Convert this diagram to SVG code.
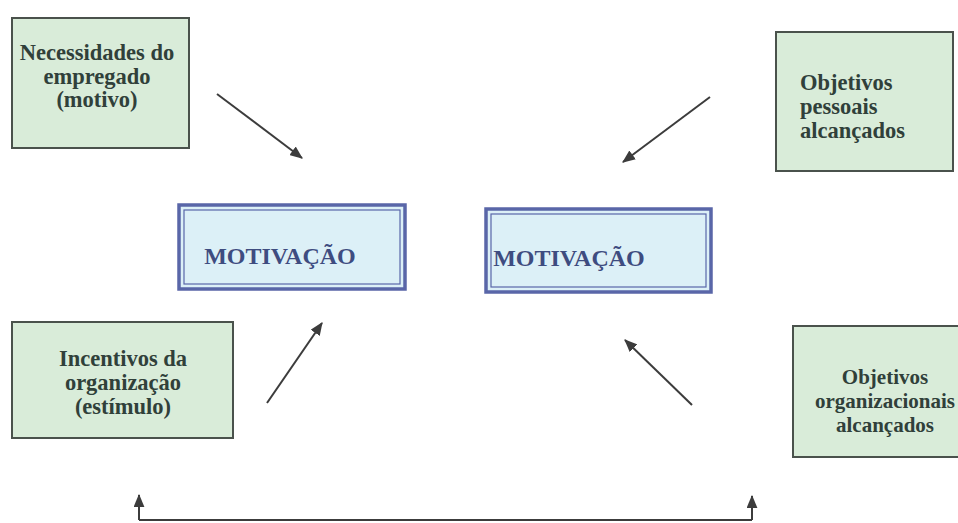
<svg xmlns="http://www.w3.org/2000/svg" width="958" height="523" viewBox="0 0 958 523">
<defs>
<style>
.g{fill:#d9ecd9;stroke:#4a524c;stroke-width:2}
.gt{font-family:"Liberation Serif","Times New Roman",serif;font-weight:bold;font-size:22.5px;fill:#30403a}
.go{font-size:21px}
.m{fill:#dcf0f7;stroke:#5966a8;stroke-width:3.5}
.mi{fill:none;stroke:#5966a8;stroke-width:1.2}
.mt{font-family:"Liberation Serif","Times New Roman",serif;font-weight:bold;font-size:24px;fill:#3e4c80}
.c{fill:none;stroke:#3c3c3c;stroke-width:2}
</style>
<marker id="ah" viewBox="0 0 12 10" refX="11" refY="5" markerWidth="13" markerHeight="11" markerUnits="userSpaceOnUse" orient="auto">
<path d="M0,0 L12,5 L0,10 z" fill="#3c3c3c"/>
</marker>
</defs>
<rect width="958" height="523" fill="#ffffff"/>

<g id="connectors">
<line class="c" x1="217" y1="94" x2="302" y2="158" marker-end="url(#ah)"/>
<line class="c" x1="710" y1="97" x2="623" y2="162" marker-end="url(#ah)"/>
<line class="c" x1="267" y1="403" x2="322" y2="323" marker-end="url(#ah)"/>
<line class="c" x1="692" y1="405" x2="625" y2="340" marker-end="url(#ah)"/>
<polyline class="c" points="139,520 752,520"/>
<line class="c" x1="139" y1="520" x2="139" y2="495" marker-end="url(#ah)"/>
<line class="c" x1="752" y1="520" x2="752" y2="496" marker-end="url(#ah)"/>
</g>

<g id="necessidades">
<rect class="g" x="12" y="18" width="177" height="130"/>
<text class="gt" text-anchor="middle"><tspan x="97" y="60">Necessidades do</tspan><tspan x="97" y="84">empregado</tspan><tspan x="97" y="107">(motivo)</tspan></text>
</g>

<g id="objetivos-pessoais">
<rect class="g" x="776" y="32" width="177" height="139"/>
<text class="gt"><tspan x="800" y="90">Objetivos</tspan><tspan x="800" y="114">pessoais</tspan><tspan x="800" y="138">alcançados</tspan></text>
</g>

<g id="motivacao1">
<rect class="m" x="179" y="205" width="226" height="84"/>
<rect class="mi" x="184" y="210" width="216" height="74"/>
<text class="mt" x="280" y="264" text-anchor="middle">MOTIVAÇÃO</text>
</g>

<g id="motivacao2">
<rect class="m" x="486" y="209" width="225" height="83"/>
<rect class="mi" x="491" y="214" width="215" height="73"/>
<text class="mt" x="569" y="266" text-anchor="middle">MOTIVAÇÃO</text>
</g>

<g id="incentivos">
<rect class="g" x="12" y="322" width="221" height="116"/>
<text class="gt" text-anchor="middle"><tspan x="123" y="366">Incentivos da</tspan><tspan x="123" y="390">organização</tspan><tspan x="123" y="414">(estímulo)</tspan></text>
</g>

<g id="objetivos-organizacionais">
<rect class="g" x="793" y="326" width="175" height="131"/>
<text class="gt go" text-anchor="middle"><tspan x="885" y="384">Objetivos</tspan><tspan x="885" y="408">organizacionais</tspan><tspan x="885" y="432">alcançados</tspan></text>
</g>
</svg>
